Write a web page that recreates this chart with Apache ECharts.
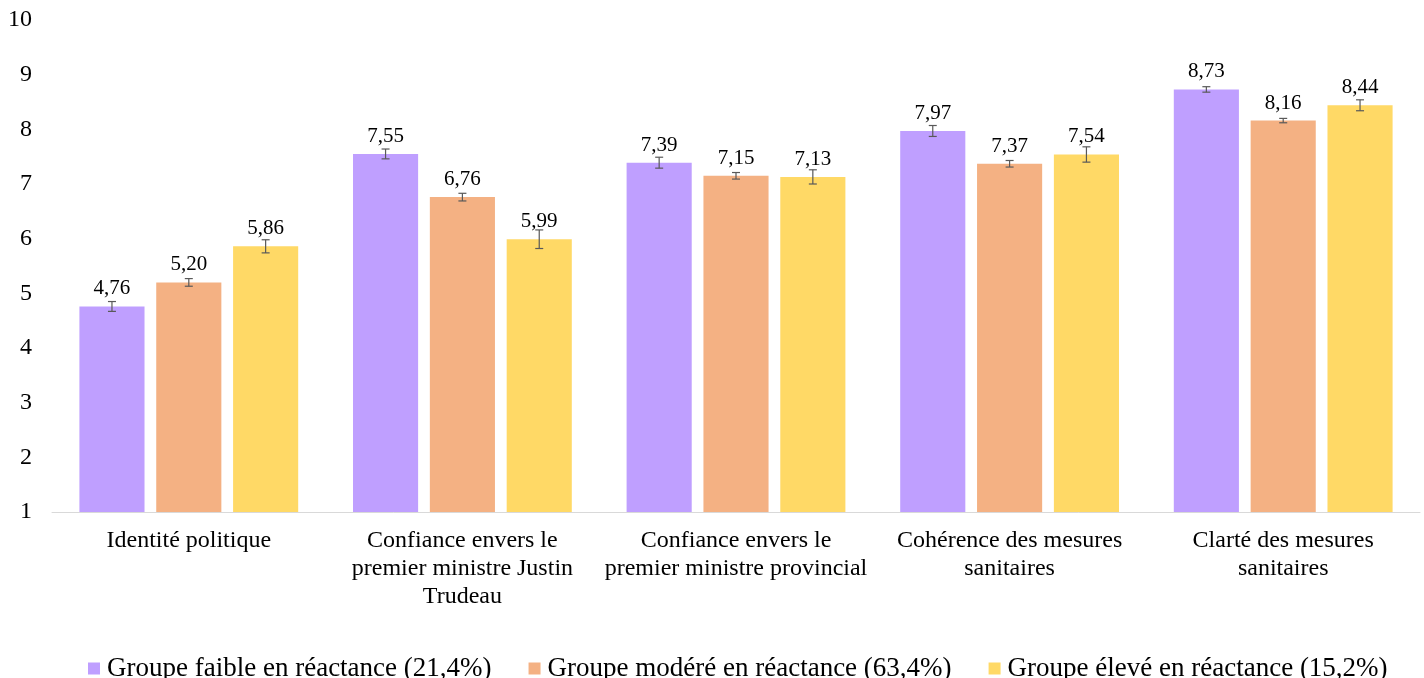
<!DOCTYPE html>
<html>
<head>
<meta charset="utf-8">
<script src="https://cdn.jsdelivr.net/npm/echarts@6/dist/echarts.min.js"></script>
<style>html,body{margin:0;padding:0;background:#fff}#c{width:1424px;height:678px}</style>
</head>
<body>
<div id="c"></div>
<script>
var categories = ['Identité politique', 'Confiance envers le\npremier ministre Justin\nTrudeau', 'Confiance envers le\npremier ministre provincial', 'Cohérence des mesures\nsanitaires', 'Clarté des mesures\nsanitaires'];
var seriesNames = ['Groupe faible en réactance (21,4%)', 'Groupe modéré en réactance (63,4%)', 'Groupe élevé en réactance (15,2%)'];
var faible = [4.76, 7.55, 7.39, 7.97, 8.73];
var modere = [5.20, 6.76, 7.15, 7.37, 8.16];
var eleve = [5.86, 5.99, 7.13, 7.54, 8.44];
var errFaible = [0.09, 0.09, 0.10, 0.10, 0.05];
var errModere = [0.07, 0.07, 0.06, 0.06, 0.04];
var errEleve = [0.12, 0.17, 0.13, 0.14, 0.10];
var yTicks = [1, 2, 3, 4, 5, 6, 7, 8, 9, 10];

var colors = ['#BF9FFF', '#F4B183', '#FFD966'];
var values = [faible, modere, eleve];
var errs = [errFaible, errModere, errEleve];
var BAR_W = 0.238, BAR_GAP = 0.18;
var font = '"Liberation Serif", "Times New Roman", serif';

function fmt(v) { return v.toFixed(2).replace('.', ','); }

var series = [];
values.forEach(function (vals, s) {
  series.push({
    name: seriesNames[s],
    type: 'bar',
    data: vals,
    barWidth: (BAR_W * 100) + '%',
    barGap: (BAR_GAP * 100) + '%',
    itemStyle: { color: colors[s] },
    label: {
      show: true, position: 'top', distance: 7,
      fontFamily: font, fontSize: 21, color: '#000',
      formatter: function (p) { return fmt(p.value); }
    },
    z: 2
  });
});
values.forEach(function (vals, s) {
  series.push({
    type: 'custom',
    name: seriesNames[s] + ' err',
    data: vals.map(function (v, i) { return [i, v - errs[s][i], v + errs[s][i]]; }),
    encode: { x: 0, y: [1, 2] },
    z: 5,
    silent: true,
    renderItem: function (params, api) {
      var i = api.value(0);
      var lo = api.coord([i, api.value(1)]);
      var hi = api.coord([i, api.value(2)]);
      var band = api.size([1, 0])[0];
      var off = (s - 1) * band * BAR_W * (1 + BAR_GAP);
      var x = lo[0] + off;
      var cap = 4;
      var st = { stroke: '#595959', lineWidth: 1.2 };
      return {
        type: 'group',
        children: [
          { type: 'line', shape: { x1: x, y1: lo[1], x2: x, y2: hi[1] }, style: st },
          { type: 'line', shape: { x1: x - cap, y1: lo[1], x2: x + cap, y2: lo[1] }, style: st },
          { type: 'line', shape: { x1: x - cap, y1: hi[1], x2: x + cap, y2: hi[1] }, style: st }
        ]
      };
    }
  });
});

var chart = echarts.init(document.getElementById('c'));
chart.setOption({
  animation: false,
  grid: { left: 52, right: 4, top: 20, bottom: 166, containLabel: false },
  legend: {
    data: seriesNames,
    top: 650, left: 83,
    itemWidth: 12, itemHeight: 12, itemGap: 37,
    icon: 'rect',
    textStyle: { fontFamily: font, fontSize: 27, color: '#000', padding: [0, 0, 0, 2] }
  },
  xAxis: {
    type: 'category',
    data: categories,
    axisLine: { lineStyle: { color: '#D9D9D9', width: 1 } },
    axisTick: { show: false },
    axisLabel: { fontFamily: font, fontSize: 24, color: '#000', lineHeight: 28, margin: 15, interval: 0 }
  },
  yAxis: {
    type: 'value',
    min: yTicks[0], max: yTicks[yTicks.length - 1], interval: 1,
    axisLine: { show: false },
    axisTick: { show: false },
    splitLine: { show: false },
    axisLabel: { fontFamily: font, fontSize: 24, color: '#000', margin: 20 }
  },
  series: series
});
</script>
</body>
</html>
